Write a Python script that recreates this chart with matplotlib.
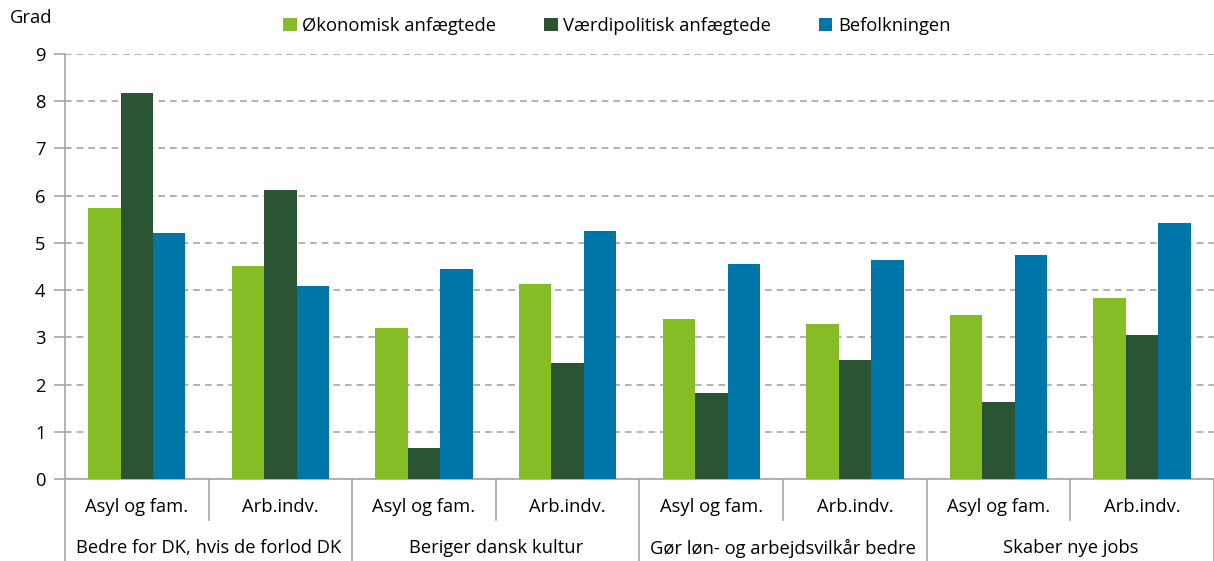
import numpy as np
import matplotlib.pyplot as plt

plt.rcParams['font.family'] = ['Open Sans', 'DejaVu Sans']

# Data
groups = ['Bedre for DK, hvis de forlod DK', 'Beriger dansk kultur',
          'Gør løn- og arbejdsvilkår bedre', 'Skaber nye jobs']
subcats = ['Asyl og fam.', 'Arb.indv.']
series_names = ['Økonomisk anfægtede', 'Værdipolitisk anfægtede', 'Befolkningen']
okonomisk = [5.74, 4.51, 3.20, 4.13, 3.39, 3.28, 3.47, 3.83]
vaerdipolitisk = [8.18, 6.13, 0.66, 2.46, 1.83, 2.53, 1.64, 3.04]
befolkningen = [5.22, 4.09, 4.45, 5.26, 4.56, 4.63, 4.74, 5.43]
colors = ['#86bc25', '#2b5434', '#0076a8']

fs = 13.2

fig = plt.figure(figsize=(12.14, 5.61), dpi=100)
ax = fig.add_axes([0.0535, 0.1462, 0.9465, 0.7575])

n = len(okonomisk)
x = np.arange(n)
w = 0.226
for i, (vals, name, c) in enumerate(zip([okonomisk, vaerdipolitisk, befolkningen],
                                        series_names, colors)):
    ax.bar(x + (i - 1) * w, vals, width=w, color=c, label=name, zorder=3)

ax.set_xlim(-0.5, n - 0.5)
ax.set_ylim(0, 9)
ax.set_yticks(range(10))
ax.yaxis.grid(True, linestyle=(0, (4, 3)), color='#a6a6a6', linewidth=1.2, zorder=0)
ax.tick_params(axis='y', labelsize=fs, length=8, color='#a6a6a6', width=1.2, pad=6)
ax.tick_params(axis='x', bottom=False, labelbottom=False)
for s in ['top', 'right']:
    ax.spines[s].set_visible(False)
for s in ['left', 'bottom']:
    ax.spines[s].set_color('#a6a6a6')
    ax.spines[s].set_linewidth(1.2)

# multi-level category axis
trans = ax.get_xaxis_transform()
for k in range(n + 1):
    xb = k - 0.5
    depth = -0.195 if k % 2 == 0 else -0.097
    ax.plot([xb, xb], [0, depth], transform=trans, color='#a6a6a6', lw=1.2, clip_on=False)
for k in range(n):
    ax.text(k, -0.065, subcats[k % 2], transform=trans, ha='center', va='center', fontsize=fs)
for g, name in enumerate(groups):
    ax.text(2 * g + 0.5, -0.163, name, transform=trans, ha='center', va='center', fontsize=fs)

fig.text(0.008, 0.968, 'Grad', fontsize=fs, va='center', ha='left')
fig.legend(*ax.get_legend_handles_labels(), loc='center', bbox_to_anchor=(0.508, 0.954),
           ncol=3, frameon=False, fontsize=fs, handlelength=0.75, handleheight=0.75,
           handletextpad=0.3, columnspacing=2.6)

fig.savefig('out.png', dpi=100)
